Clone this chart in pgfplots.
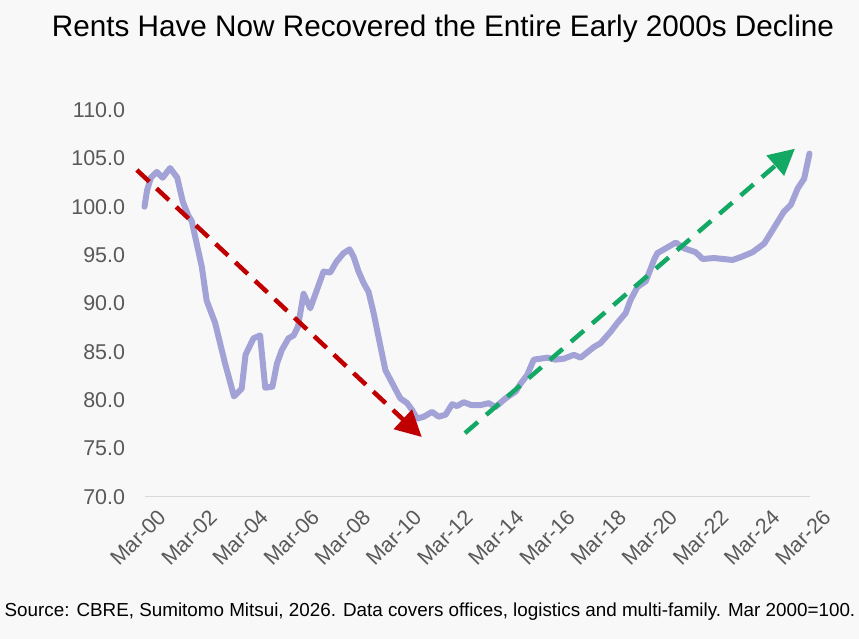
\documentclass[border=0pt]{standalone}
\usepackage{pgfplots}
\pgfplotsset{compat=1.18}
\usepackage{fontspec}
\setmainfont{Liberation Sans}
\usetikzlibrary{arrows.meta}

\definecolor{bgcol}{HTML}{F8F8F8}
\definecolor{rentcol}{HTML}{A2A2D6}
\definecolor{downcol}{HTML}{C00000}
\definecolor{upcol}{HTML}{14A865}
\definecolor{tickcol}{HTML}{595959}
\definecolor{axiscol}{HTML}{D9D9D9}

\pgfplotstableread{
year   idx
2000.00 100.0
2000.10 101.7
2000.25 103.0
2000.48 103.6
2000.71 103.0
2001.00 104.0
2001.28 103.0
2001.50 100.5
2001.71 99.1
2001.85 98.5
2002.04 96.2
2002.24 93.8
2002.43 90.3
2002.76 88.0
2003.15 83.8
2003.50 80.4
2003.80 81.2
2003.95 84.7
2004.26 86.4
2004.52 86.7
2004.72 81.3
2005.00 81.4
2005.18 83.8
2005.37 85.2
2005.63 86.4
2005.83 86.7
2006.00 87.6
2006.22 91.0
2006.48 89.5
2006.74 91.4
2007.00 93.3
2007.26 93.2
2007.50 94.3
2007.78 95.2
2008.02 95.6
2008.18 94.8
2008.37 93.3
2008.57 92.1
2008.76 91.2
2008.96 89.0
2009.09 87.3
2009.42 83.1
2009.68 81.8
2010.00 80.2
2010.27 79.7
2010.46 79.0
2010.66 78.1
2010.92 78.3
2011.24 78.8
2011.50 78.3
2011.77 78.5
2012.03 79.6
2012.22 79.4
2012.48 79.8
2012.78 79.5
2013.14 79.5
2013.46 79.7
2013.72 79.3
2014.12 80.2
2014.51 80.9
2014.70 81.7
2014.96 82.6
2015.22 84.2
2015.75 84.4
2016.07 84.2
2016.40 84.3
2016.79 84.7
2017.05 84.4
2017.57 85.5
2017.83 85.9
2018.23 87.1
2018.49 88.0
2018.81 89.0
2019.01 90.4
2019.27 91.7
2019.60 92.3
2019.92 94.5
2020.05 95.2
2020.38 95.7
2020.77 96.3
2021.10 95.7
2021.55 95.3
2021.82 94.6
2022.27 94.7
2022.99 94.5
2023.32 94.8
2023.77 95.3
2024.23 96.2
2024.56 97.6
2025.00 99.5
2025.27 100.2
2025.54 101.9
2025.79 102.9
2025.92 104.5
2026.00 105.5
}\rents

\begin{document}
\begin{tikzpicture}
\fill[bgcol] (0,0) rectangle (859bp,639bp);
\useasboundingbox (0,0) rectangle (859bp,639bp);

\node[font=\fontsize{29.8}{35}\selectfont, text=black] at (443bp,610bp)
  {Rents Have Now Recovered the Entire Early 2000s Decline};

\begin{axis}[
  at={(144.5bp,142bp)}, anchor=south west,
  scale only axis, width=665bp, height=387bp,
  xmin=2000, xmax=2026, ymin=70, ymax=110,
  clip=false,
  axis lines=left,
  x axis line style={draw=axiscol, line width=1bp, -},
  y axis line style={draw=none},
  major tick length=0pt,
  tick style={draw=none},
  xtick={2000,2002,...,2026},
  xticklabels={Mar-00,Mar-02,Mar-04,Mar-06,Mar-08,Mar-10,Mar-12,Mar-14,Mar-16,Mar-18,Mar-20,Mar-22,Mar-24,Mar-26},
  ytick={70,75,...,110},
  yticklabel style={/pgf/number format/fixed, /pgf/number format/fixed zerofill,
    /pgf/number format/precision=1, /pgf/number format/assume math mode=true},
  yticklabel style={text=tickcol, font=\fontsize{21.5}{25}\selectfont, xshift=-16bp},
  xticklabel style={text=tickcol, font=\fontsize{21.5}{25}\selectfont, rotate=45, anchor=north east, xshift=4bp, yshift=-13bp},
]
\addplot[rentcol, line width=6bp, line join=round, line cap=round] table[x=year, y=idx] {\rents};

% trend arrows
\addplot[downcol, line width=4.5bp, dash pattern=on 17bp off 10bp,
  -{Triangle[length=26bp, width=26bp]}] coordinates {(1999.70,103.8) (2010.84,76.2)};
\addplot[upcol, line width=4.5bp, dash pattern=on 17bp off 11bp,
  -{Triangle[length=26bp, width=26bp]}] coordinates {(2012.53,76.6) (2025.43,106.0)};
\end{axis}

\node[font=\fontsize{18.9}{22}\selectfont, text=black] at (430bp,27bp)
  {Source: CBRE, Sumitomo Mitsui, 2026. Data covers offices, logistics and multi-family. Mar 2000=100.};
\end{tikzpicture}
\end{document}
